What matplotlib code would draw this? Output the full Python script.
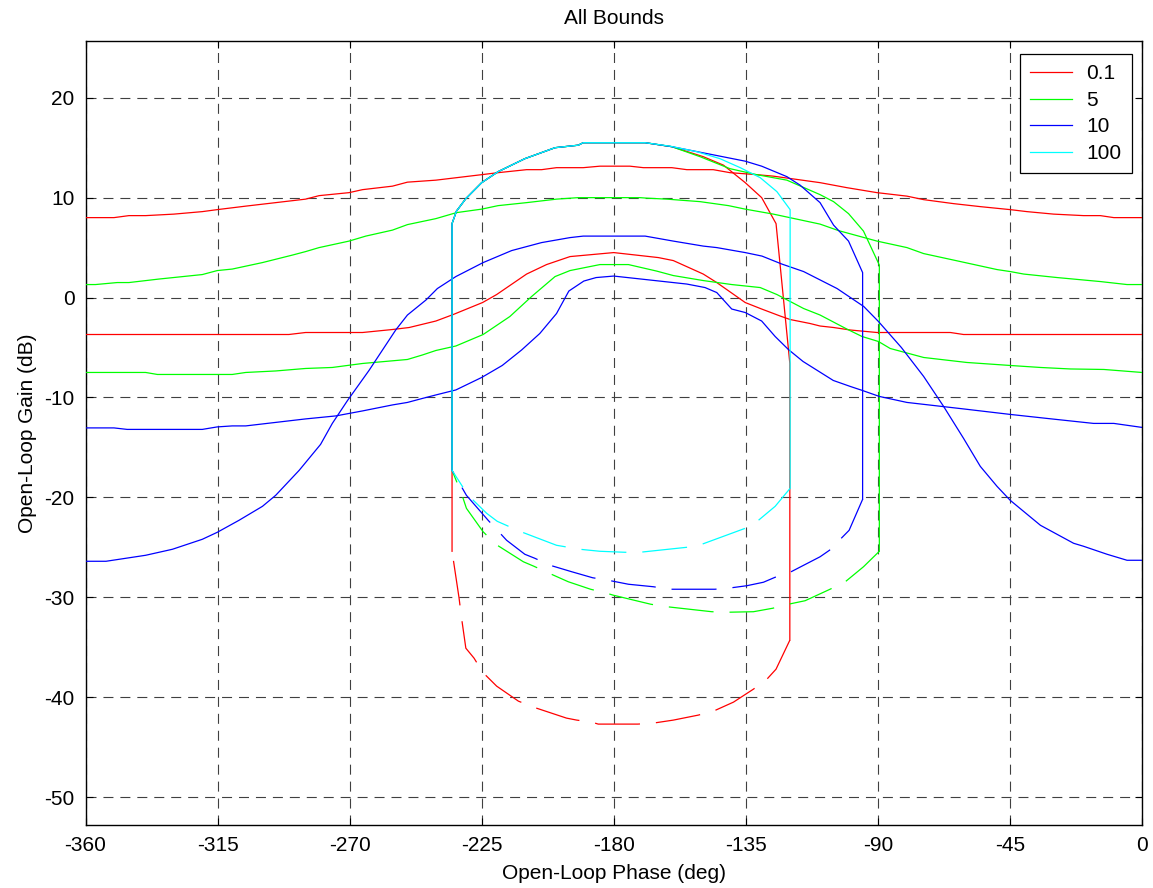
import matplotlib
matplotlib.use("Agg")
import matplotlib.pyplot as plt

plt.rcParams["font.family"] = ["Liberation Sans", "DejaVu Sans"]
plt.rcParams["lines.scale_dashes"] = False
plt.rcParams["axes.unicode_minus"] = False

# legend entries (frequencies) and MATLAB-style colours
FREQS = ["0.1", "5", "10", "100"]
COLORS = {"0.1": "#ff0000", "5": "#00ff00", "10": "#0000ff", "100": "#00ffff"}

# ---- open bounds: (phase deg, gain dB) ----
RED_TOP = [(-360, 8.0), (-350.3, 8.0), (-345.2, 8.2), (-339.5, 8.2), (-329.9, 8.35),
           (-320.2, 8.6), (-315.1, 8.8), (-305.4, 9.15), (-295.2, 9.5), (-285.0, 9.85),
           (-280.4, 10.2), (-270.2, 10.5), (-265.6, 10.8), (-255.4, 11.15), (-250.3, 11.55),
           (-240.6, 11.75), (-225.0, 12.3), (-219.4, 12.5), (-209.7, 12.8), (-204.6, 12.8),
           (-199.5, 13.0), (-190.4, 13.0), (-184.7, 13.15), (-174.5, 13.15), (-169.9, 13.0),
           (-160.2, 13.0), (-155.1, 12.8), (-146.1, 12.8), (-140.4, 12.5), (-131.3, 12.3),
           (-125.6, 12.15), (-109.7, 11.5), (-100.6, 11.0), (-90.3, 10.5), (-80.1, 10.15),
           (-74.4, 9.8), (-64.2, 9.4), (-55.1, 9.1), (-44.9, 8.8), (-39.2, 8.6),
           (-30.1, 8.35), (-19.9, 8.2), (-14.2, 8.2), (-9.6, 8.0), (0, 8.0)]
RED_MID = [(-360, -3.7), (-290.7, -3.7), (-285.0, -3.5), (-265.6, -3.5), (-255.4, -3.2),
           (-249.7, -3.0), (-240.6, -2.35), (-234.7, -1.7), (-224.7, -0.5), (-219.9, 0.3),
           (-209.7, 2.35), (-202.9, 3.3), (-194.9, 4.1), (-180.0, 4.5), (-164.8, 4.0),
           (-159.7, 3.7), (-149.5, 2.35), (-144.9, 1.5), (-135.2, -0.5), (-129.6, -1.15),
           (-123.3, -1.85), (-119.9, -2.2), (-113.1, -2.6), (-109.7, -2.85), (-105.1, -3.0),
           (-99.4, -3.25), (-90.3, -3.5), (-65.3, -3.5), (-60.8, -3.7), (0, -3.7)]
GREEN_TOP = [(-360, 1.3), (-356.6, 1.3), (-349.2, 1.5), (-345.2, 1.5), (-335.0, 1.85),
             (-320.2, 2.3), (-315.1, 2.7), (-310.0, 2.85), (-299.7, 3.5), (-289.5, 4.25),
             (-285.0, 4.6), (-280.4, 5.0), (-270.2, 5.65), (-264.5, 6.15), (-255.4, 6.75),
             (-250.3, 7.3), (-240.6, 7.9), (-233.6, 8.5), (-225.0, 8.85), (-219.4, 9.2),
             (-209.7, 9.5), (-199.5, 9.85), (-192.1, 10.0), (-171.1, 10.0), (-168.8, 9.95),
             (-161.9, 9.85), (-150.6, 9.6), (-140.9, 9.2), (-135.2, 8.85), (-125.6, 8.35),
             (-109.7, 7.35), (-103.4, 6.7), (-90.3, 5.65), (-80.1, 5.0), (-74.4, 4.4),
             (-64.2, 3.75), (-49.4, 2.8), (-44.9, 2.6), (-40.3, 2.35), (-28.9, 2.0),
             (-14.2, 1.6), (-5.1, 1.3), (0, 1.3)]
GREEN_MID = [(-360, -7.5), (-339.5, -7.5), (-335.5, -7.7), (-310.0, -7.7), (-305.4, -7.5),
             (-295.2, -7.35), (-285.0, -7.1), (-275.9, -7.0), (-265.6, -6.6), (-250.3, -6.2),
             (-245.2, -5.75), (-240.6, -5.3), (-233.8, -4.85), (-224.5, -3.7), (-215.4, -1.9),
             (-208.0, 0.1), (-200.0, 2.1), (-194.9, 2.7), (-184.7, 3.3), (-175.0, 3.3),
             (-165.4, 2.65), (-159.7, 2.2), (-149.5, 1.7), (-139.8, 1.3), (-130.1, 1.0),
             (-124.4, 0.3), (-115.3, -1.1), (-109.7, -1.75), (-100.6, -3.15), (-95.4, -3.9),
             (-89.8, -4.4), (-85.8, -5.1), (-74.4, -6.0), (-59.7, -6.5), (-44.9, -6.8),
             (-34.6, -7.0), (-24.4, -7.15), (-13.0, -7.2), (0, -7.5)]
BLUE_LOW = [(-360, -13.05), (-350.3, -13.05), (-345.8, -13.2), (-320.2, -13.2),
            (-315.1, -12.95), (-310.0, -12.85), (-305.4, -12.85), (-295.2, -12.5),
            (-285.0, -12.15), (-274.7, -11.85), (-265.6, -11.35), (-255.4, -10.75),
            (-250.3, -10.5), (-245.2, -10.1), (-240.6, -9.75), (-233.8, -9.25), (-225.0, -8.0),
            (-218.0, -6.8), (-211.4, -5.25), (-205.2, -3.6), (-199.5, -1.6), (-195.3, 0.65),
            (-190.2, 1.65), (-186.0, 2.0), (-180.0, 2.15), (-155.1, 1.35), (-148.9, 1.0),
            (-144.9, 0.5), (-139.8, -1.15), (-135.2, -1.5), (-129.6, -2.35), (-125.0, -3.9),
            (-120.5, -5.2), (-115.5, -6.4), (-105.2, -8.3), (-99.4, -8.9), (-95.3, -9.3),
            (-89.5, -9.9), (-80.1, -10.5), (-60.8, -11.15), (-44.9, -11.7), (-32.4, -12.1),
            (-16.5, -12.6), (-9.6, -12.6), (0, -13.0)]
BLUE_OUT = [(-360, -26.4), (-353.0, -26.4), (-339.5, -25.8), (-330.4, -25.2), (-320.2, -24.2),
            (-315.1, -23.5), (-307.7, -22.3), (-299.7, -20.9), (-295.2, -19.8), (-287.2, -17.3),
            (-279.9, -14.7), (-275.9, -12.6), (-270.7, -10.3), (-263.4, -7.3), (-254.3, -3.25),
            (-250.3, -1.75), (-244.0, -0.25), (-240.1, 0.9), (-233.8, 2.1), (-224.5, 3.5),
            (-214.8, 4.7), (-204.6, 5.5), (-194.9, 6.0), (-190.4, 6.15), (-169.3, 6.15),
            (-159.7, 5.65), (-149.5, 5.15), (-144.9, 5.0), (-135.2, 4.5), (-129.5, 4.15),
            (-122.7, 3.35), (-115.3, 2.6), (-103.9, 0.9), (-94.8, -0.9), (-89.8, -2.4),
            (-82.0, -5.0), (-74.4, -7.9), (-67.6, -10.9), (-60.8, -14.1), (-55.1, -16.9),
            (-49.4, -18.9), (-44.9, -20.3), (-34.6, -22.8), (-23.3, -24.6), (-19.9, -24.9),
            (-11.9, -25.7), (-5.1, -26.3), (0, -26.3)]

# ---- closed bounds: shared left dome, per-frequency right side, dashed bottom ----
DOME_LEFT = [(-235.1, -17.3), (-235.1, 7.4), (-233.6, 8.65), (-230.4, 9.9), (-225.0, 11.5),
             (-219.4, 12.6), (-210.3, 13.9), (-200.0, 15.0), (-192.1, 15.25), (-190.4, 15.5),
             (-169.3, 15.5)]
RED_RIGHT = [(-160.2, 15.1), (-149.5, 14.1), (-142.6, 13.25), (-135.2, 11.5), (-129.6, 10.0),
             (-124.7, 7.4), (-120.0, -6.6), (-120.0, -34.3)]
GREEN_RIGHT = [(-160.2, 15.1), (-150.6, 14.1), (-140.4, 12.9), (-131.3, 12.3), (-121.0, 11.75),
               (-109.7, 10.3), (-105.1, 9.6), (-100.0, 8.4), (-94.9, 6.65), (-89.5, 3.25),
               (-89.5, -25.4)]
BLUE_RIGHT = [(-160.2, 15.1), (-147.2, 14.35), (-135.2, 13.65), (-129.6, 13.15), (-121.0, 12.1),
              (-116.5, 11.25), (-109.7, 9.5), (-105.1, 7.25), (-100.0, 5.65), (-95.2, 2.5),
              (-95.2, -20.2)]
CYAN_RIGHT = [(-160.8, 15.15), (-151.7, 14.6), (-143.8, 13.9), (-136.9, 13.0), (-130.1, 12.0),
              (-124.4, 10.6), (-119.9, 8.8), (-119.9, -19.1)]

RED_BOTTOM = [(-120.0, -34.3), (-124.7, -37.2), (-127.8, -38.2), (-132.4, -39.2), (-139.2, -40.5),
              (-146.0, -41.4), (-151.2, -41.8), (-159.7, -42.3), (-166.5, -42.6), (-171.8, -42.7),
              (-185.3, -42.7), (-187.5, -42.5), (-192.6, -42.3), (-196.1, -42.1), (-207.4, -41.0),
              (-212.5, -40.4), (-219.9, -38.9), (-224.7, -37.5), (-227.6, -36.1), (-230.4, -35.1),
              (-231.9, -32.0), (-232.7, -30.1), (-235.1, -25.4)]
GREEN_BOTTOM = [(-89.5, -25.4), (-94.9, -26.95), (-101.1, -28.45), (-106.3, -29.2), (-114.8, -30.35),
                (-120.5, -30.7), (-125.8, -31.1), (-132.4, -31.45), (-140.9, -31.5), (-146.6, -31.45),
                (-161.9, -30.95), (-167.4, -30.7), (-180.1, -29.8), (-182.4, -29.6), (-187.9, -29.2),
                (-195.5, -28.45), (-202.0, -27.6), (-207.2, -26.9), (-210.8, -26.45), (-220.2, -24.7),
                (-224.5, -23.45), (-230.2, -21.1), (-231.9, -19.6), (-235.1, -17.3)]
BLUE_BOTTOM = [(-95.2, -20.2), (-99.8, -23.3), (-106.5, -25.3), (-109.7, -25.95), (-119.9, -27.5),
               (-125.0, -28.0), (-129.0, -28.5), (-134.7, -28.85), (-139.8, -29.05), (-145.5, -29.2),
               (-160.8, -29.2), (-166.5, -28.95), (-175.0, -28.7), (-181.9, -28.3), (-187.2, -28.05),
               (-194.3, -27.45), (-201.7, -26.8), (-206.9, -26.1), (-210.3, -25.7), (-216.5, -24.3),
               (-222.8, -22.3), (-230.2, -19.8), (-235.1, -17.3)]
CYAN_BOTTOM = [(-119.9, -19.1), (-125.0, -20.9), (-130.7, -22.3), (-135.2, -23.1), (-150.0, -24.7),
               (-155.1, -25.0), (-171.1, -25.5), (-176.2, -25.5), (-184.7, -25.4), (-191.5, -25.2),
               (-199.5, -24.8), (-212.0, -23.4), (-219.7, -22.4), (-223.3, -21.6), (-229.6, -19.8),
               (-235.1, -17.3)]

XTICKS = list(range(-360, 1, 45))
YTICKS = list(range(-50, 21, 10))


def xy(pts):
    return [p[0] for p in pts], [p[1] for p in pts]


LW = 0.9
DASH = (0, (32.4, 11.5))

fig = plt.figure(figsize=(11.53, 8.88), dpi=100)
ax = fig.add_axes([85.5 / 1153, (888 - 825.3) / 888, (1142 - 85.5) / 1153, (825.3 - 41) / 888])

solid = {
    "0.1": [RED_TOP, RED_MID, [(-235.1, -25.4)] + DOME_LEFT + RED_RIGHT],
    "5": [GREEN_TOP, GREEN_MID, DOME_LEFT + GREEN_RIGHT],
    "10": [BLUE_LOW, BLUE_OUT, DOME_LEFT + BLUE_RIGHT],
    "100": [DOME_LEFT + CYAN_RIGHT],
}
dashed = {"0.1": RED_BOTTOM, "5": GREEN_BOTTOM, "10": BLUE_BOTTOM, "100": CYAN_BOTTOM}

for f in FREQS:
    c = COLORS[f]
    for k, pts in enumerate(solid[f]):
        ax.plot(*xy(pts), color=c, lw=LW, label=f if k == 0 else None, zorder=3)
    ax.plot(*xy(dashed[f]), color=c, lw=LW, linestyle=DASH, zorder=3)

ax.set_xlim(-360, 0)
ax.set_ylim(-52.83, 25.68)
ax.set_xticks(XTICKS)
ax.set_yticks(YTICKS)
ax.tick_params(direction="in", top=True, right=True, length=5, width=0.8,
               labelsize=15, pad=8)
ax.grid(True, color="0.25", linestyle=(0, (7.2, 5.0)), linewidth=0.8)
ax.set_axisbelow(True)
for s in ax.spines.values():
    s.set_linewidth(1.0)

ax.set_title("All Bounds", fontsize=15, pad=12)
ax.set_xlabel("Open-Loop Phase (deg)", fontsize=15, labelpad=6)
ax.set_ylabel("Open-Loop Gain (dB)", fontsize=15, labelpad=5)

leg = ax.legend(loc="upper right", bbox_to_anchor=(1 - 10 / 1056.5, 1 - 13 / 784.3),
                borderaxespad=0, fontsize=15, handlelength=2.0, handletextpad=0.7,
                labelspacing=0.36, borderpad=0.5, fancybox=False, framealpha=1)
leg.get_frame().set_edgecolor("black")
leg.get_frame().set_linewidth(0.9)

fig.savefig("out.png", dpi=100, facecolor="white")
